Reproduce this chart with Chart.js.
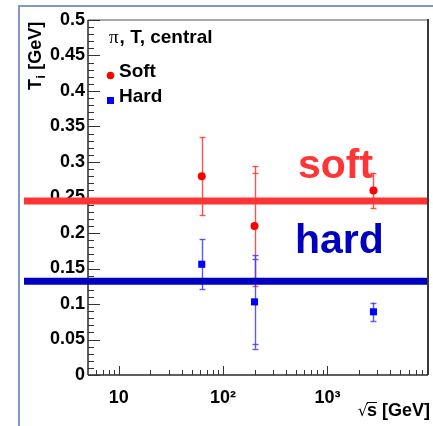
<!DOCTYPE html>
<html>
<head>
<meta charset="utf-8">
<script src="https://cdn.jsdelivr.net/npm/chart.js@4.4.1/dist/chart.umd.min.js"></script>
<style>
html,body{margin:0;padding:0;background:#fff;overflow:hidden}
canvas{display:block}
</style>
</head>
<body>
<canvas id="c" width="433" height="426"></canvas>
<script>
// Collision energies sqrt(s) in GeV
const energies = [62.4, 200, 2760];
// Soft-component temperature T_i (GeV) with outer and inner error bars
const softT = [0.280, 0.210, 0.260];
const softErr = [0.055, 0.084, 0.025];
const softErrInner = [0.055, 0.074, 0.025];
// Hard-component temperature T_i (GeV) with outer and inner error bars
const hardT = [0.156, 0.103, 0.089];
const hardErr = [0.0355, 0.066, 0.013];
const hardErrInner = [0.0355, 0.060, 0.013];
// Average levels drawn as wide horizontal bands
const softLevel = 0.245;
const hardLevel = 0.132;
// Axis ticks
const xTickValues = [10, 100, 1000];
const xTickLabels = ['10', '10²', '10³'];
const yTickStep = 0.05;

const FONT = '"Liberation Sans", Arial, Helvetica, sans-serif';
const SOFT_RED = '#ff3535';
const HARD_BLUE = '#0000c0';

function seg(ctx, x1, y1, x2, y2) {
  ctx.beginPath(); ctx.moveTo(x1, y1); ctx.lineTo(x2, y2); ctx.stroke();
}

function drawErrors(ctx, xs, ys, vals, outer, inner, color) {
  ctx.save();
  ctx.strokeStyle = color;
  ctx.lineWidth = 1.4;
  for (let i = 0; i < vals.length; i++) {
    const px = Math.round(xs.getPixelForValue(energies[i])) + 0.5;
    const top = ys.getPixelForValue(vals[i] + outer[i]);
    const bot = ys.getPixelForValue(vals[i] - outer[i]);
    seg(ctx, px, top, px, bot);
    const caps = [vals[i] + outer[i], vals[i] - outer[i]];
    if (inner[i] !== outer[i]) caps.push(vals[i] + inner[i], vals[i] - inner[i]);
    caps.forEach(v => {
      const py = Math.round(ys.getPixelForValue(v)) + 0.5;
      seg(ctx, px - 3, py, px + 3, py);
    });
  }
  ctx.restore();
}

const decor = {
  id: 'decor',
  beforeDatasetsDraw(chart) {
    const { ctx, chartArea: a, scales: { x, y } } = chart;
    ctx.save();
    // frame
    ctx.lineWidth = 2;
    ctx.strokeStyle = '#a8a8a8';
    seg(ctx, a.left, a.top, a.right, a.top);
    ctx.strokeStyle = '#3a3a3a';
    seg(ctx, a.right, a.top - 1, a.right, a.bottom);
    ctx.lineWidth = 1.5;
    ctx.strokeStyle = '#2a2a2a';
    seg(ctx, a.left, a.top, a.left, a.bottom);
    seg(ctx, a.left, a.bottom, a.right, a.bottom);
    // y ticks, major every 0.05, minor every 0.01
    ctx.lineWidth = 1;
    ctx.strokeStyle = '#333';
    for (let i = 0; i <= 50; i++) {
      const py = Math.round(y.getPixelForValue(i * 0.01)) + 0.5;
      seg(ctx, a.left, py, a.left + (i % 5 === 0 ? 12 : 6), py);
    }
    // x ticks on a log axis
    for (let d = 1; d <= 1000; d *= 10) {
      for (let m = 1; m <= 9; m++) {
        const v = d * m;
        if (v < x.min || v > x.max) continue;
        const px = Math.round(x.getPixelForValue(v)) + 0.5;
        seg(ctx, px, a.bottom, px, a.bottom - (m === 1 ? 9 : 5));
      }
    }
    ctx.restore();
    drawErrors(ctx, x, y, softT, softErr, softErrInner, 'rgba(255,50,50,0.85)');
    drawErrors(ctx, x, y, hardT, hardErr, hardErrInner, 'rgba(60,60,255,0.85)');
  },
  afterDatasetsDraw(chart) {
    const { ctx, chartArea: a, scales: { y } } = chart;
    ctx.save();
    ctx.lineWidth = 7;
    ctx.strokeStyle = SOFT_RED;
    const ys = y.getPixelForValue(softLevel);
    seg(ctx, 24, ys, a.right - 1, ys);
    ctx.strokeStyle = HARD_BLUE;
    const yh = y.getPixelForValue(hardLevel);
    seg(ctx, 24, yh, a.right - 1, yh);
    ctx.restore();
  },
  afterDraw(chart) {
    const { ctx } = chart;
    ctx.save();
    // outer pad border
    ctx.strokeStyle = '#7f98c6';
    ctx.lineWidth = 2;
    seg(ctx, 19, 6, 433, 6);
    seg(ctx, 19, 5, 19, 426);

    ctx.fillStyle = '#000';
    ctx.textAlign = 'left';
    ctx.textBaseline = 'alphabetic';

    // legend
    ctx.font = `19px "Liberation Serif", serif`;
    ctx.fillText('π', 109, 43);
    const pw = ctx.measureText('π').width;
    ctx.font = `bold 19px ${FONT}`;
    ctx.fillText(', T, central', 109 + pw + 1, 43);
    ctx.fillText('Soft', 119, 77);
    ctx.fillText('Hard', 119, 102);
    ctx.fillStyle = '#ff0000';
    ctx.beginPath(); ctx.arc(110.5, 75.5, 3.8, 0, Math.PI * 2); ctx.fill();
    ctx.fillStyle = '#0000ff';
    ctx.fillRect(107, 97, 7, 7);

    // band labels
    ctx.font = `bold 41px ${FONT}`;
    ctx.fillStyle = SOFT_RED;
    ctx.fillText('soft', 298, 178);
    ctx.fillStyle = HARD_BLUE;
    ctx.fillText('hard', 295, 253);

    // y title
    ctx.fillStyle = '#000';
    ctx.save();
    ctx.translate(41, 90);
    ctx.rotate(-Math.PI / 2);
    ctx.font = `bold 18px ${FONT}`;
    ctx.fillText('T', 0, 0);
    let w = ctx.measureText('T').width;
    ctx.font = `bold 12px ${FONT}`;
    ctx.fillText('i', w + 0.5, 4);
    w += ctx.measureText('i').width + 1;
    ctx.font = `bold 18px ${FONT}`;
    ctx.fillText(' [GeV]', w, 0);
    ctx.restore();

    // x title
    ctx.font = `bold 18px ${FONT}`;
    ctx.textAlign = 'right';
    ctx.fillText('s [GeV]', 430, 416);
    const full = ctx.measureText('s [GeV]').width;
    const rest = ctx.measureText(' [GeV]').width;
    const sLeft = 430 - full;
    const sRight = 430 - rest;
    ctx.font = `16px "DejaVu Sans", sans-serif`;
    ctx.fillText('√', sLeft + 1, 416);
    ctx.strokeStyle = '#000';
    ctx.lineWidth = 1;
    seg(ctx, sLeft, 402.5, sRight, 402.5);
    ctx.restore();
  }
};

new Chart(document.getElementById('c'), {
  type: 'scatter',
  data: {
    datasets: [
      {
        label: 'Soft',
        data: energies.map((e, i) => ({ x: e, y: softT[i] })),
        pointStyle: 'circle',
        pointRadius: 4,
        backgroundColor: '#ff0000',
        borderWidth: 0
      },
      {
        label: 'Hard',
        data: energies.map((e, i) => ({ x: e, y: hardT[i] })),
        pointStyle: 'rect',
        pointRadius: 5,
        backgroundColor: '#0000ff',
        borderWidth: 0
      }
    ]
  },
  options: {
    responsive: false,
    animation: false,
    devicePixelRatio: 1,
    layout: { padding: { top: 20, right: 3, left: 0, bottom: 0 } },
    plugins: { legend: { display: false }, tooltip: { enabled: false } },
    scales: {
      x: {
        type: 'logarithmic',
        min: 5.07,
        max: 9200,
        grid: { display: false, drawTicks: false },
        border: { display: false },
        afterBuildTicks: s => { s.ticks = xTickValues.map(v => ({ value: v, major: true })); },
        afterFit: s => { s.height = 51; },
        ticks: {
          autoSkip: false,
          maxRotation: 0,
          padding: 12,
          color: '#000',
          font: { family: FONT, size: 18, weight: 'bold' },
          callback: (v, i) => xTickLabels[i]
        }
      },
      y: {
        min: 0,
        max: 0.5,
        grid: { display: false, drawTicks: false },
        border: { display: false },
        afterFit: s => { s.width = 88; },
        ticks: {
          stepSize: yTickStep,
          padding: 3,
          color: '#000',
          font: { family: FONT, size: 18, weight: 'bold' },
          callback: v => String(+(+v).toFixed(2))
        }
      }
    }
  },
  plugins: [decor]
});
</script>
</body>
</html>
